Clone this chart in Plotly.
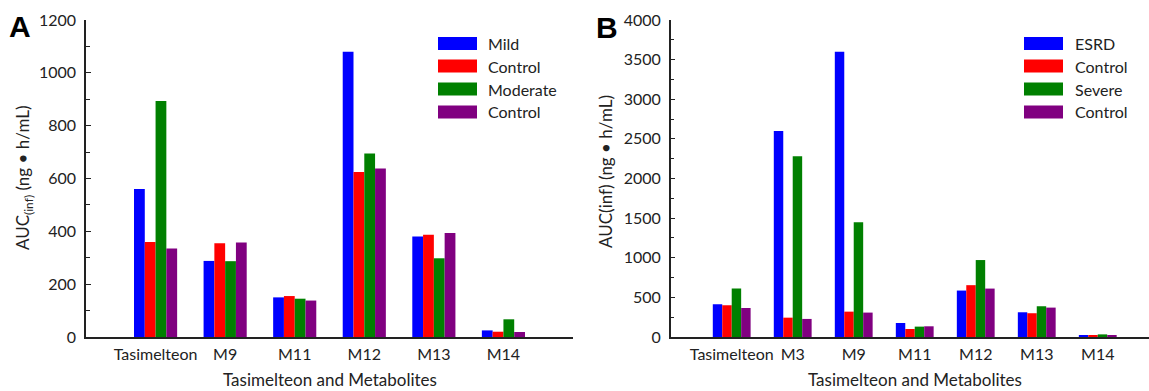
import plotly.graph_objects as go

W, H = 1149, 391

categories_A = ["Tasimelteon", "M9", "M11", "M12", "M13", "M14"]
mild = [560, 288, 150, 1080, 380, 25]
control_a1 = [360, 355, 155, 625, 387, 20]
moderate = [893, 287, 145, 695, 298, 67]
control_a2 = [335, 358, 138, 638, 394, 19]
series_A = ["Mild", "Control", "Moderate", "Control"]

categories_B = ["Tasimelteon", "M3", "M9", "M11", "M12", "M13", "M14"]
esrd = [414, 2600, 3600, 177, 586, 312, 22]
control_b1 = [401, 244, 320, 101, 654, 300, 22]
severe = [611, 2280, 1447, 131, 971, 388, 33]
control_b2 = [367, 228, 308, 135, 611, 371, 17]
series_B = ["ESRD", "Control", "Severe", "Control"]

colors = ["#0000FF", "#FF0000", "#008000", "#800080"]
FONT = "Lato"
TXT = "#222"

fig = go.Figure()
for name, vals, c in zip(series_A, [mild, control_a1, moderate, control_a2], colors):
    fig.add_trace(go.Bar(x=categories_A, y=vals, name=name, marker_color=c,
                         marker_line_width=0, xaxis="x", yaxis="y", showlegend=False))
for name, vals, c in zip(series_B, [esrd, control_b1, severe, control_b2], colors):
    fig.add_trace(go.Bar(x=categories_B, y=vals, name=name, marker_color=c,
                         marker_line_width=0, xaxis="x2", yaxis="y2", showlegend=False))

def px(x):
    return x / W

def py(y):
    # paper y from pixel y, plot area from top 20 to 337
    return (337 - y) / 317.0

axis_common = dict(showline=True, linecolor="#222", linewidth=1.5, showgrid=False,
                   zeroline=False, tickfont=dict(family=FONT, size=16, color=TXT))

fig.update_layout(
    width=W, height=H,
    margin=dict(l=0, r=0, t=20, b=54),
    paper_bgcolor="white", plot_bgcolor="white",
    barmode="group", bargap=0.38, bargroupgap=0,
    xaxis=dict(domain=[px(86), px(573)], type="category", range=[-1, 6],
               ticks="", ticklabelstandoff=2, **axis_common),
    yaxis=dict(anchor="x", range=[0, 1200], dtick=200, ticks="inside", ticklen=5,
               tickwidth=1.2, tickcolor="#222", ticklabelstandoff=5,
               minor=dict(dtick=100, ticks="inside", ticklen=4, tickcolor="#222", tickwidth=1.2),
               **axis_common),
    xaxis2=dict(domain=[px(670.7), 1], type="category", range=[-1, 6.84],
                ticks="", anchor="y2", ticklabelstandoff=2, **axis_common),
    yaxis2=dict(anchor="x2", range=[0, 4000], dtick=500, ticks="inside", ticklen=5,
                tickwidth=1.2, tickcolor="#222", ticklabelstandoff=5,
                minor=dict(dtick=250, ticks="inside", ticklen=4, tickcolor="#222", tickwidth=1.2),
                **axis_common),
    showlegend=False,
)

anns = []
shapes = []

def ann(text, x, y, size, **kw):
    d = dict(text=text, x=px(x), y=py(y), xref="paper", yref="paper",
             showarrow=False, xanchor=kw.pop("xanchor", "center"), yanchor="middle",
             font=dict(family=kw.pop("family", FONT), size=size, color=kw.pop("color", TXT)))
    d.update(kw)
    anns.append(d)

# panel labels
ann("<b>A</b>", 20, 26, 30, family="Liberation Sans", color="black")
ann("<b>B</b>", 607, 28, 30, family="Liberation Sans", color="black")
# axis titles
ann("Tasimelteon and Metabolites", 330, 379, 17)
ann("Tasimelteon and Metabolites", 915, 379, 17)
ann("AUC<sub>(inf)</sub> (ng • h/mL)", 24, 178, 17, textangle=-90)
ann("AUC(inf) (ng • h/mL)", 605, 172, 17, textangle=-90)

# legends
rows = [43.5, 66, 89, 112]
for (sx0, sx1, tx, names) in [(438, 477, 486, series_A), (1024, 1063, 1073, series_B)]:
    for r, name, c in zip(rows, names, colors):
        shapes.append(dict(type="rect", xref="paper", yref="paper",
                           x0=px(sx0), x1=px(sx1), y0=py(r + 6.5), y1=py(r - 6.5),
                           fillcolor=c, line=dict(width=0)))
        ann(name, tx, r, 16, xanchor="left")

fig.update_layout(annotations=anns, shapes=shapes)
fig.write_html("out.html")
